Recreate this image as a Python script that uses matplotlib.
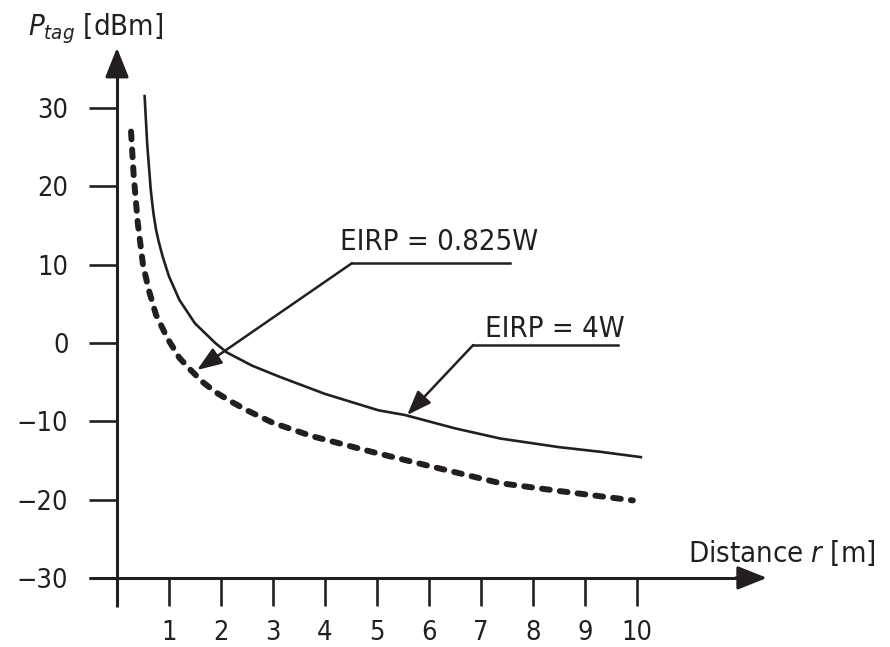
import matplotlib
matplotlib.use("Agg")
import matplotlib.pyplot as plt
from matplotlib import font_manager

# ── Data ──────────────────────────────────────────────────────
r_4w = [0.53, 0.58, 0.65, 0.70, 0.75, 0.80, 0.88, 1.0, 1.2, 1.5, 1.89, 2.11,
        2.6, 3.12, 4.0, 5.03, 5.54, 6.5, 7.37, 8.5, 9.3, 10.1]
p_4w = [31.7, 25.5, 19.5, 16.6, 14.5, 13.0, 11.0, 8.5, 5.5, 2.5, 0.0, -1.2,
        -2.9, -4.3, -6.5, -8.6, -9.2, -10.9, -12.2, -13.3, -13.9, -14.6]

r_low = [0.27, 0.32, 0.40, 0.50, 0.61, 0.75, 0.97, 1.2, 1.41, 1.65, 1.9, 2.2,
         2.5, 3.0, 3.75, 4.9, 6.0, 7.37, 8.5, 9.92]
p_low = [27.0, 21.5, 15.3, 10.0, 6.8, 3.6, 0.6, -1.9, -3.4, -5.0, -6.3, -7.5,
         -8.6, -10.2, -11.9, -13.9, -15.7, -17.9, -18.9, -20.1]

x_ticks = list(range(1, 11))
y_ticks = [-30, -20, -10, 0, 10, 20, 30]
y_labels = ['\u221230', '\u221220', '\u221210', '0', '10', '20', '30']

INK = '#231f20'

# use a narrow face if one is installed, otherwise shrink the regular one
fam, stretch, big, small = 'Liberation Sans', 'normal', 20, 18.5
for f in font_manager.fontManager.ttflist:
    if f.name == 'Liberation Sans Narrow':
        fam, stretch, big, small = f.name, 'normal', 22, 20
        break
    if f.name == 'DejaVu Sans' and 'Condensed' in f.fname:
        fam, stretch, big, small = f.name, 'condensed', 21, 19.5

plt.rcParams['font.family'] = [fam, 'DejaVu Sans']
plt.rcParams['font.stretch'] = stretch
plt.rcParams['mathtext.fontset'] = 'custom'
plt.rcParams['mathtext.rm'] = fam
plt.rcParams['mathtext.it'] = fam + ':italic'

fig = plt.figure(figsize=(8.9, 6.47), dpi=100)
ax = fig.add_axes([0.0964, 0.0584, 0.7712, 0.8774])
ax.set_xlim(-0.6, 12.6)
ax.set_ylim(-34, 38.5)

# ── Axes with arrows ──────────────────────────────────────────
for s in ['top', 'right']:
    ax.spines[s].set_visible(False)
ax.spines['left'].set_position(('data', 0))
ax.spines['bottom'].set_position(('data', -30))
ax.spines['left'].set_bounds(-33.7, 35)
ax.spines['bottom'].set_bounds(-0.54, 12.0)
for s in ['left', 'bottom']:
    ax.spines[s].set_linewidth(2.2)
    ax.spines[s].set_color(INK)
    ax.spines[s].set_capstyle('butt')

ax.annotate('', xy=(0, 37.7), xytext=(0, 34.5),
            arrowprops=dict(arrowstyle='-|>,head_length=0.9,head_width=0.36',
                            mutation_scale=20, lw=2.2, color=INK,
                            shrinkA=0, shrinkB=0))
ax.annotate('', xy=(12.5, -30), xytext=(11.9, -30),
            arrowprops=dict(arrowstyle='-|>,head_length=0.9,head_width=0.36',
                            mutation_scale=20, lw=2.2, color=INK,
                            shrinkA=0, shrinkB=0))

ax.set_xticks(x_ticks)
ax.set_yticks(y_ticks)
ax.set_yticklabels(y_labels)
ax.tick_params(axis='both', direction='out', length=20, width=1.9,
               color=INK, labelcolor=INK, labelsize=small)
ax.tick_params(axis='y', pad=15)
ax.tick_params(axis='x', pad=10)

# ── Curves ────────────────────────────────────────────────────
ax.plot(r_4w, p_4w, color=INK, lw=1.9, solid_capstyle='butt',
        solid_joinstyle='round')
ax.plot(r_low, p_low, color=INK, lw=4.3, dashes=(1.3, 1.7),
        dash_capstyle='round')

# ── Annotations ───────────────────────────────────────────────
arrow_kw = dict(arrowstyle='-|>,head_length=0.75,head_width=0.28',
                mutation_scale=20, lw=1.8, color=INK, shrinkA=0, shrinkB=0)

ax.plot([4.52, 7.56], [10.2, 10.2], color=INK, lw=1.8)
ax.annotate('', xy=(1.54, -3.45), xytext=(4.52, 10.2), arrowprops=arrow_kw)
ax.text(4.29, 11.9, 'EIRP = 0.825W', fontsize=big, color=INK,
        ha='left', va='baseline')

ax.plot([6.85, 9.63], [-0.26, -0.26], color=INK, lw=1.8)
ax.annotate('', xy=(5.58, -9.2), xytext=(6.85, -0.26), arrowprops=arrow_kw)
ax.text(7.08, 0.77, 'EIRP = 4W', fontsize=big, color=INK,
        ha='left', va='baseline')

# ── Axis labels ───────────────────────────────────────────────
ax.text(-1.71, 39.3, r'$P_{tag}$ [dBm]', fontsize=big, color=INK,
        ha='left', va='baseline', clip_on=False)
ax.text(10.98, -28.0, r'Distance $r$ [m]', fontsize=big, color=INK,
        ha='left', va='baseline')

fig.savefig('out.png', dpi=100)
